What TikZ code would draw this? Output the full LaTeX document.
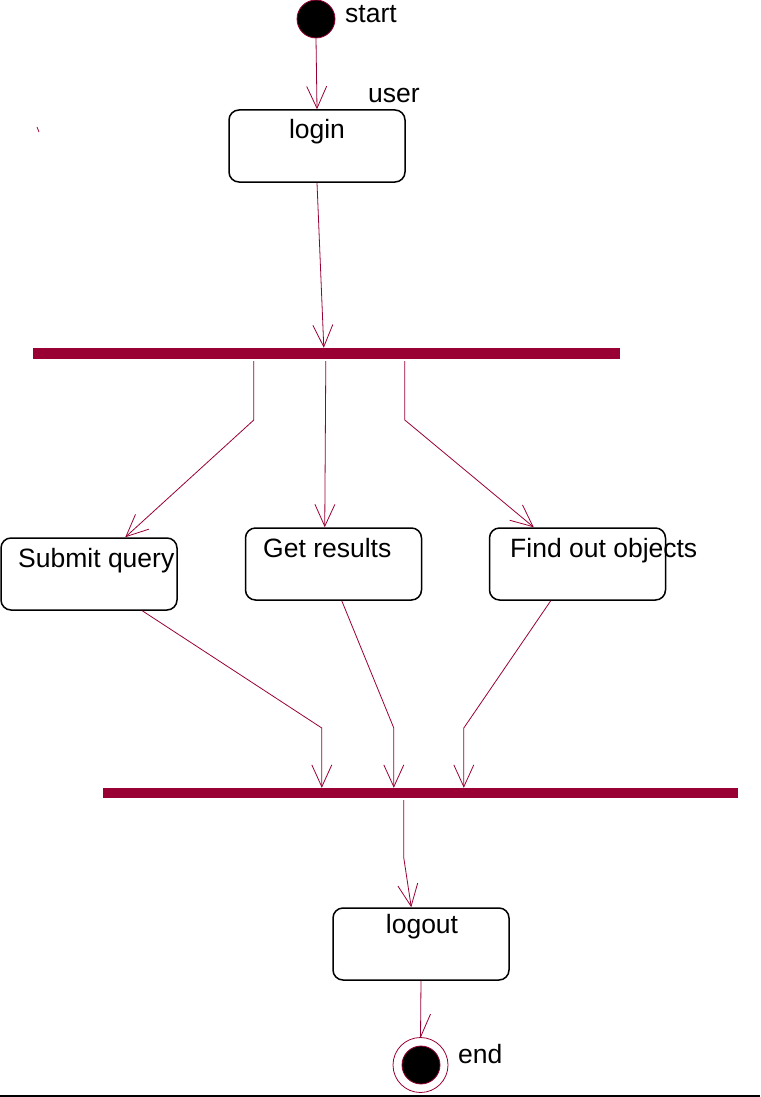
\documentclass[tikz,border=0pt]{standalone}
\usepackage{fontspec}
\setmainfont{Liberation Sans}
\usetikzlibrary{arrows.meta,calc}
\definecolor{barred}{RGB}{153,0,51}
\begin{document}
\begin{tikzpicture}[x=1pt,y=-1pt,
  every node/.style={font=\fontsize{26.5}{30}\selectfont},
  activity/.style={draw=black,line width=1.5pt,rounded corners=10pt,minimum width=176pt,minimum height=72pt,inner sep=0pt},
  syncbar/.style={fill=barred,draw=none,inner sep=0pt},
  label/.style={inner sep=0pt,anchor=base west},
  boxtext/.style={inner sep=0pt,anchor=base},
  flow/.style={draw=barred,line width=0.8pt,-{Straight Barb[length=22pt,width=20pt,line width=0.8pt]}},
  plain/.style={draw=barred,line width=0.8pt}]
  \useasboundingbox (0,0) rectangle (760,1097);

  % initial and final states
  \node[circle,fill=black,draw=barred,line width=0.8pt,minimum size=38pt,inner sep=0pt] (start) at (316,19) {};
  \node[label] (startlbl) at (345,23) {start};
  \node[circle,draw=barred,line width=0.8pt,minimum size=55pt,inner sep=0pt] (endc) at (420.5,1065) {};
  \node[circle,fill=black,draw=barred,line width=0.8pt,minimum size=38pt,inner sep=0pt] (endin) at (421,1065) {};
  \node[label] (endlbl) at (458,1063) {end};

  % activities
  \node[activity] (login) at (317,146) {};
  \node[boxtext] (logintxt) at (317,139) {login};
  \node[label] (userlbl) at (368,103) {user};
  \node[activity] (submit) at (89,574) {};
  \node[label] (submittxt) at (18,567) {Submit query};
  \node[activity] (results) at (333.5,564) {};
  \node[label] (resultstxt) at (263,557) {Get results};
  \node[activity] (objects) at (577.5,564) {};
  \node[label] (objectstxt) at (510,557) {Find out objects};
  \node[activity] (logout) at (421,944) {};
  \node[boxtext] (logouttxt) at (422,933) {logout};

  % fork and join bars
  \node[syncbar,minimum width=587pt,minimum height=11pt] (fork) at (326.5,353.5) {};
  \node[syncbar,minimum width=635pt,minimum height=10pt] (join) at (420.5,793) {};

  % connector end points on the bars and boxes
  \coordinate (forkin) at ($(fork.north west)+(291,0)$);
  \coordinate (forkA) at ($(fork.south west)+(221,2)$);
  \coordinate (forkB) at ($(fork.south west)+(293,2)$);
  \coordinate (forkC) at ($(fork.south west)+(372,2)$);
  \coordinate (subin) at ($(submit.north west)+(125,0)$);
  \coordinate (resin) at ($(results.north west)+(80,0)$);
  \coordinate (objin) at ($(objects.north west)+(45,0)$);
  \coordinate (subout) at ($(submit.south west)+(142,0)$);
  \coordinate (resout) at ($(results.south west)+(97,0)$);
  \coordinate (objout) at ($(objects.south west)+(62,0)$);
  \coordinate (joinA) at ($(join.north west)+(219,0)$);
  \coordinate (joinB) at ($(join.north west)+(291,0)$);
  \coordinate (joinC) at ($(join.north west)+(361,0)$);
  \coordinate (joinout) at ($(join.south west)+(301,2)$);
  \coordinate (logoutin) at ($(logout.north west)+(79,0)$);
  \coordinate (barb) at ($(endc.north)+(10,-23)$);

  % control flow
  \draw[flow] (start.south) -- (login.north);
  \draw[flow] (login.south) -- (forkin);
  \draw[flow] (forkA) -- (forkA |- 0,420) -- (subin);
  \draw[flow] (forkB) -- (resin);
  \draw[flow] (forkC) -- (forkC |- 0,420) -- (objin);
  \draw[flow] (subout) -- (joinA |- 0,728) -- (joinA);
  \draw[flow] (resout) -- (joinB |- 0,728) -- (joinB);
  \draw[flow] (objout) -- (joinC |- 0,728) -- (joinC);
  \draw[flow] (joinout) -- (joinout |- 0,858) -- (logoutin);
  \draw[plain] (logout.south) -- (endc.north);
  \draw[plain] (barb) -- (endc.north);

  % stray tick and bottom rule
  \draw[plain] (37,127) -- (39,132);
  \draw[black,line width=2pt] (0,1096) -- (760,1096);
\end{tikzpicture}
\end{document}
